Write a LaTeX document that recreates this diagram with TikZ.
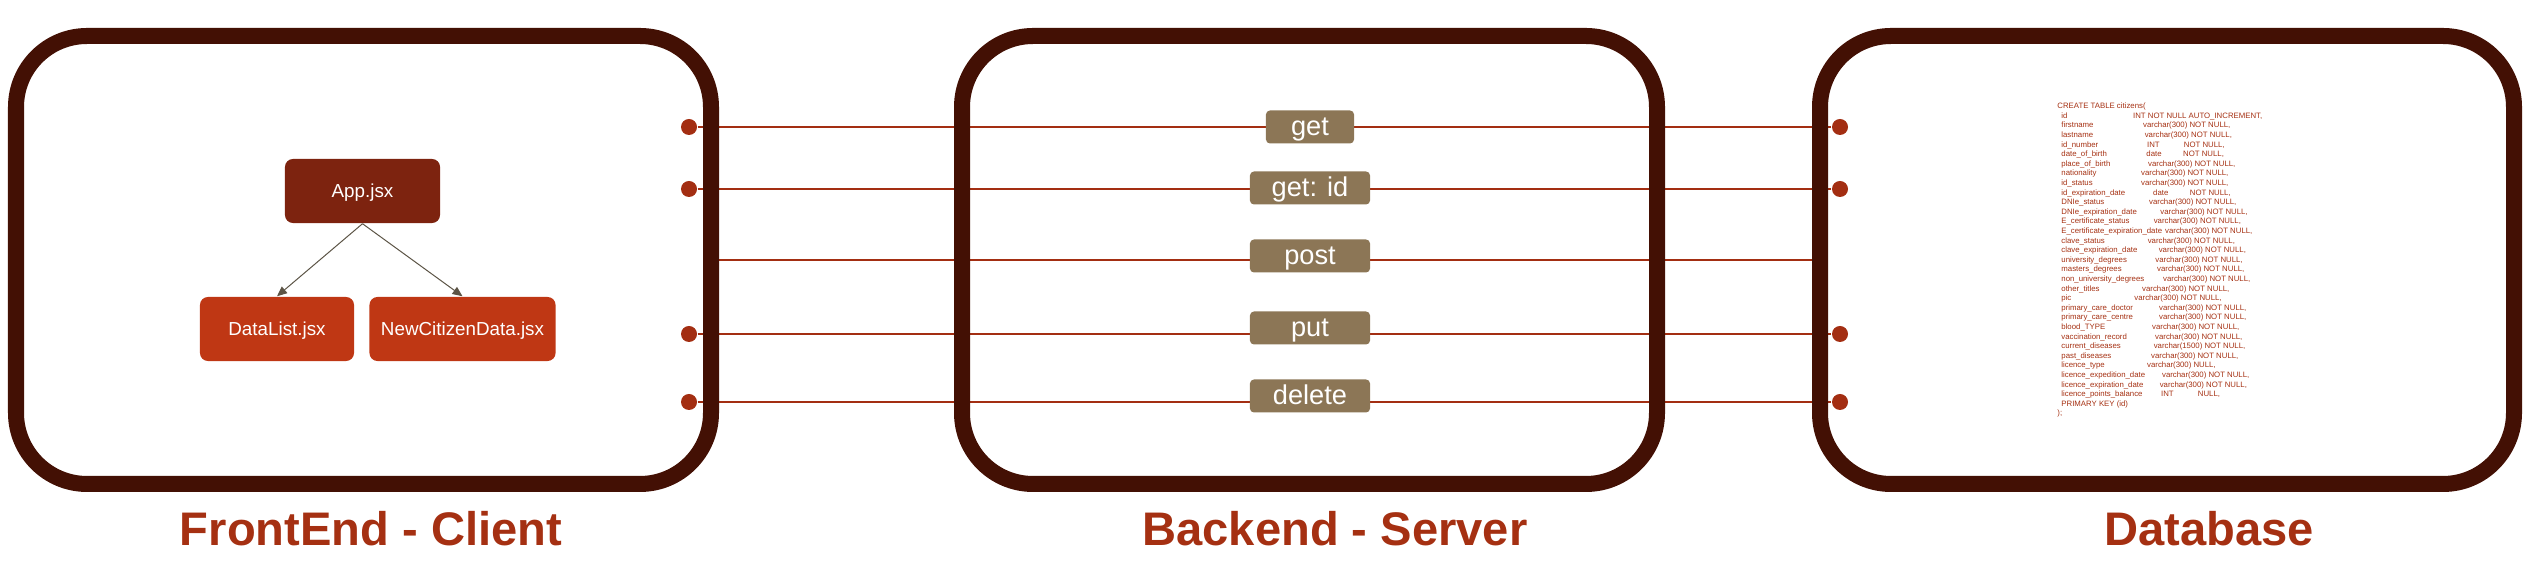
\documentclass[tikz,border=0pt]{standalone}
\usepackage{fontspec}
\setmainfont{Liberation Sans}
\usetikzlibrary{arrows.meta, positioning, backgrounds}

\newcommand{\sqlrow}[3]{\hspace*{0.4mm}\makebox[#1mm][l]{#2}#3}
\newcommand{\sqlgap}[1]{\makebox[3.67mm][l]{#1}}

\tikzset{
  tier/.style={draw=tierline, line width=1.6mm, rounded corners=7.1mm},
  jsx/.style={rounded corners=0.8mm, text=white, minimum width=15.5mm, minimum height=6.4mm,
              inner sep=0pt, text height=1.35mm, text depth=0pt, font=\fontsize{5.35}{6}\selectfont},
  link/.style={draw=linkcol, line width=0.1mm, -{Triangle[length=1mm, width=0.85mm]}},
  route/.style={fill=routefill, rounded corners=0.4mm, text=white, minimum width=12mm, minimum height=3.3mm,
                inner sep=0pt, text height=1.8mm, text depth=0pt, font=\fontsize{7.74}{9}\selectfont},
  pin/.style={circle, fill=wire, inner sep=0pt, minimum size=1.6mm},
  wire/.style={draw=wire, line width=0.15mm},
  tiername/.style={text=titlecol, anchor=base, inner sep=0pt, font=\bfseries\fontsize{13.4}{16}\selectfont},
  sql/.style={anchor=north west, inner sep=0pt, align=left, text=titlecol, font=\fontsize{2.22}{2.73}\selectfont}
}

\begin{document}
\begin{tikzpicture}[x=0.01cm, y=-0.01cm]
    \definecolor{tierline}{HTML}{431004}
    \definecolor{appfill}{HTML}{7D230F}
    \definecolor{compfill}{HTML}{BF3714}
    \definecolor{routefill}{HTML}{8C7656}
    \definecolor{wire}{HTML}{A32E12}
    \definecolor{titlecol}{HTML}{A53012}
    \definecolor{linkcol}{HTML}{5C5446}
    \useasboundingbox (0,0) rectangle (2535,577);

    % frontend components
    \node[jsx, fill=appfill] (app) at (362.5,191) {App.jsx};
    \node[jsx, fill=compfill, minimum width=15.4mm] (datalist) at (277,329) {DataList.jsx};
    \node[jsx, fill=compfill, minimum width=18.6mm, right=1.4mm of datalist] (newdata) {NewCitizenData.jsx};
    \draw[link] (app.south) -- (datalist.north);
    \draw[link] (app.south) -- (newdata.north);

    % request pins
    \node[pin] (l1) at (689,127) {};
    \node[pin] (l2) at (689,189) {};
    \coordinate (l3) at (718,260);
    \node[pin] (l4) at (689,334) {};
    \node[pin] (l5) at (689,402) {};
    \node[pin] (r1) at (1840,127) {};
    \node[pin] (r2) at (1840,189) {};
    \coordinate (r3) at (1827,260);
    \node[pin] (r4) at (1840,334) {};
    \node[pin] (r5) at (1840,402) {};

    \begin{scope}[on background layer]
    \draw[wire] (l1) -- (r1);
    \draw[wire] (l2) -- (r2);
    \draw[wire] (l3) -- (r3);
    \draw[wire] (l4) -- (r4);
    \draw[wire] (l5) -- (r5);
    \end{scope}

    \node[route, minimum width=8.8mm] (get) at (1310,127) {get};
    \node[route] (getid) at (1310,188) {get: id};
    \node[route] (post) at (1310,256) {post};
    \node[route] (put) at (1310,328) {put};
    \node[route] (delete) at (1310,396) {delete};

    % the three tiers
    \draw[tier] (16,36) rectangle (711,484);
    \draw[tier] (962,36) rectangle (1657,484);
    \draw[tier] (1820,36) rectangle (2514,484);

    \node[tiername] (client) at (371,546) {FrontEnd - Client};
    \node[tiername] (server) at (1335,546) {Backend - Server};
    \node[tiername] (db) at (2209,546) {Database};

    \node[sql] (schema) at (2056.7,102.3) {CREATE TABLE citizens(\\
      \sqlrow{7.17}{id}{INT NOT NULL AUTO\_INCREMENT,}\\
      \sqlrow{8.17}{firstname}{varchar(300) NOT NULL,}\\
      \sqlrow{8.33}{lastname}{varchar(300) NOT NULL,}\\
      \sqlrow{8.57}{id\_number}{\sqlgap{INT}NOT NULL,}\\
      \sqlrow{8.5}{date\_of\_birth}{\sqlgap{date}NOT NULL,}\\
      \sqlrow{8.67}{place\_of\_birth}{varchar(300) NOT NULL,}\\
      \sqlrow{7.97}{nationality}{varchar(300) NOT NULL,}\\
      \sqlrow{7.97}{id\_status}{varchar(300) NOT NULL,}\\
      \sqlrow{9.17}{id\_expiration\_date}{\sqlgap{date}NOT NULL,}\\
      \sqlrow{8.77}{DNIe\_status}{varchar(300) NOT NULL,}\\
      \sqlrow{9.9}{DNIe\_expiration\_date}{varchar(300) NOT NULL,}\\
      \sqlrow{9.23}{E\_certificate\_status}{varchar(300) NOT NULL,}\\
      \sqlrow{10.37}{E\_certificate\_expiration\_date}{varchar(300) NOT NULL,}\\
      \sqlrow{8.63}{clave\_status}{varchar(300) NOT NULL,}\\
      \sqlrow{9.73}{clave\_expiration\_date}{varchar(300) NOT NULL,}\\
      \sqlrow{9.4}{university\_degrees}{varchar(300) NOT NULL,}\\
      \sqlrow{9.57}{masters\_degrees}{varchar(300) NOT NULL,}\\
      \sqlrow{10.17}{non\_university\_degrees}{varchar(300) NOT NULL,}\\
      \sqlrow{8.07}{other\_titles}{varchar(300) NOT NULL,}\\
      \sqlrow{7.3}{pic}{varchar(300) NOT NULL,}\\
      \sqlrow{9.77}{primary\_care\_doctor}{varchar(300) NOT NULL,}\\
      \sqlrow{9.77}{primary\_care\_centre}{varchar(300) NOT NULL,}\\
      \sqlrow{9.07}{blood\_TYPE}{varchar(300) NOT NULL,}\\
      \sqlrow{9.37}{vaccination\_record}{varchar(300) NOT NULL,}\\
      \sqlrow{9.23}{current\_diseases}{varchar(1500) NOT NULL,}\\
      \sqlrow{8.97}{past\_diseases}{varchar(300) NOT NULL,}\\
      \sqlrow{8.57}{licence\_type}{varchar(300) NULL,}\\
      \sqlrow{10.07}{licence\_expedition\_date}{varchar(300) NOT NULL,}\\
      \sqlrow{9.83}{licence\_expiration\_date}{varchar(300) NOT NULL,}\\
      \sqlrow{9.97}{licence\_points\_balance}{\sqlgap{INT}NULL,}\\
      \hspace*{0.4mm}PRIMARY KEY (id)\\
      );};
\end{tikzpicture}
\end{document}
